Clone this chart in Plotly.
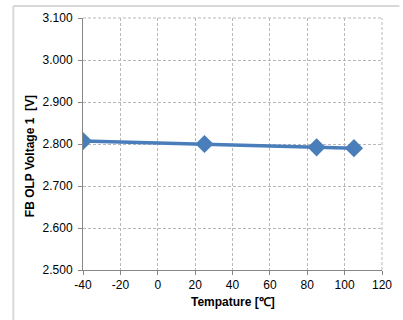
import plotly.graph_objects as go

temps = [-40, 25, 85, 105]
voltage = [2.807, 2.800, 2.792, 2.790]
x_ticks = [-40, -20, 0, 20, 40, 60, 80, 100, 120]
x_tick_labels = ["-40", "-20", "0", "20", "40", "60", "80", "100", "120"]
y_ticks = [2.5, 2.6, 2.7, 2.8, 2.9, 3.0, 3.1]
y_tick_labels = ["2.500", "2.600", "2.700", "2.800", "2.900", "3.000", "3.100"]

FONT = "Liberation Sans, Arial, sans-serif"

fig = go.Figure()
fig.add_trace(go.Scatter(
    x=temps, y=voltage, mode="lines+markers",
    line=dict(color="#4a7ebb", width=3.5),
    marker=dict(symbol="diamond", size=14, color="#4a7ebb"),
    showlegend=False,
))

L, R, T, B = 83, 392, 17, 270
W, H = 403, 320
pw, ph = R - L, B - T

def px_x(p):
    return (p - L) / pw

def px_y(p):
    return (B - p) / ph

GRID = "#b8b8b8"
DASH = "3px,2px"

fig.update_layout(
    width=W, height=H,
    margin=dict(l=L, r=W - R, t=T, b=H - B),
    paper_bgcolor="white", plot_bgcolor="white",
    font=dict(family=FONT, size=12, color="#000000"),
    xaxis=dict(
        range=[-40, 120], tickvals=x_ticks, ticktext=x_tick_labels,
        showline=True, linecolor="#868686", linewidth=1,
        ticks="outside", ticklen=4, tickcolor="#868686",
        showgrid=True, gridcolor=GRID, griddash=DASH, gridwidth=1,
        zeroline=False, ticklabeloverflow="allow",
        tickfont=dict(size=12),
    ),
    yaxis=dict(
        range=[2.5, 3.1], tickvals=y_ticks, ticktext=y_tick_labels,
        showline=True, linecolor="#868686", linewidth=1,
        ticks="outside", ticklen=4, tickcolor="#868686",
        showgrid=True, gridcolor=GRID, griddash=DASH, gridwidth=1,
        zeroline=False, ticklabeloverflow="allow", ticklabelstandoff=3,
        tickfont=dict(size=12),
    ),
    annotations=[
        dict(text="<b>Tempature [℃]</b>", xref="paper", yref="paper",
             x=0.5, y=px_y(302), xanchor="center", yanchor="middle",
             showarrow=False, font=dict(size=12)),
        dict(text="<b>FB OLP Voltage 1\u00a0\u00a0[V]</b>", xref="paper", yref="paper",
             x=px_x(29), y=px_y(156), xanchor="center", yanchor="middle",
             textangle=-90, showarrow=False, font=dict(size=12)),
    ],
    shapes=[
        dict(type="line", xref="paper", yref="paper",
             x0=px_x(11), x1=px_x(410), y0=px_y(5), y1=px_y(5),
             line=dict(color="#d9d9d9", width=2)),
        dict(type="line", xref="paper", yref="paper",
             x0=px_x(11), x1=px_x(11), y0=px_y(5), y1=px_y(330),
             line=dict(color="#d9d9d9", width=2)),
        dict(type="line", xref="paper", yref="paper",
             x0=1, x1=1, y0=0, y1=1, layer="below",
             line=dict(color=GRID, width=1, dash=DASH)),
        dict(type="line", xref="paper", yref="paper",
             x0=0, x1=1, y0=1, y1=1, layer="below",
             line=dict(color=GRID, width=1, dash=DASH)),
    ],
)

fig.write_html(
    "out.html",
    config={"displayModeBar": False},
    post_script="document.body.style.margin='0';document.body.style.overflow='hidden';",
)
